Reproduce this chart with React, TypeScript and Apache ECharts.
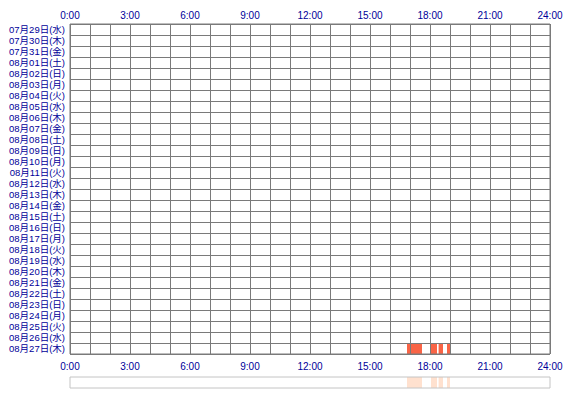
import React, { useEffect, useRef } from 'react';
import * as echarts from 'echarts';

const days = [
  '07月29日(水)', '07月30日(木)', '07月31日(金)', '08月01日(土)', '08月02日(日)',
  '08月03日(月)', '08月04日(火)', '08月05日(水)', '08月06日(木)', '08月07日(金)',
  '08月08日(土)', '08月09日(日)', '08月10日(月)', '08月11日(火)', '08月12日(水)',
  '08月13日(木)', '08月14日(金)', '08月15日(土)', '08月16日(日)', '08月17日(月)',
  '08月18日(火)', '08月19日(水)', '08月20日(木)', '08月21日(金)', '08月22日(土)',
  '08月23日(日)', '08月24日(月)', '08月25日(火)', '08月26日(水)', '08月27日(木)',
];

// [day index, start hour, end hour]
const sessions: [number, number, number][] = [
  [29, 16.85, 17.6],
  [29, 18.05, 18.35],
  [29, 18.43, 18.65],
  [29, 18.85, 19.0],
];

const hourLabels = ['0:00', '3:00', '6:00', '9:00', '12:00', '15:00', '18:00', '21:00', '24:00'];

const labelColor = '#000099';
const lineColor = '#7a7a7a';
const font = '"Liberation Sans", "Noto Sans CJK JP", sans-serif';

const hourLabel = (v: number) => (v % 3 === 0 ? hourLabels[v / 3] : '');

export default function App() {
  const ref = useRef<HTMLDivElement>(null);

  useEffect(() => {
    if (!ref.current) return;
    const chart = echarts.init(ref.current, undefined, { renderer: 'svg' });

    const dayBar = (params: any, api: any) => {
      const row = api.value(0);
      const a = api.coord([api.value(1), row]);
      const b = api.coord([api.value(2), row]);
      const h = api.size([0, 1])[1];
      return {
        type: 'rect',
        shape: { x: a[0], y: a[1] - h / 2, width: b[0] - a[0], height: h },
        style: { fill: '#f96446' },
      };
    };

    const overviewBar = (params: any, api: any) => {
      const a = api.coord([api.value(1), 1]);
      const b = api.coord([api.value(2), 0]);
      return {
        type: 'rect',
        shape: { x: a[0], y: a[1], width: b[0] - a[0], height: b[1] - a[1] },
        style: { fill: '#ffe1cf' },
      };
    };

    const labelStyle = { color: labelColor, fontSize: 10, fontFamily: font };

    chart.setOption({
      animation: false,
      grid: [
        { left: 70, top: 24, width: 480, height: 330, show: true, borderColor: lineColor, borderWidth: 1, z: 3 },
        { left: 70, top: 377, width: 480, height: 11, show: true, borderColor: '#c4c4c4', borderWidth: 1, z: 3 },
      ],
      xAxis: [
        {
          gridIndex: 0, type: 'value', position: 'top', min: 0, max: 24, interval: 1, z: 3,
          axisLine: { show: false }, axisTick: { show: false },
          splitLine: { show: true, lineStyle: { color: lineColor, width: 1 } },
          axisLabel: { ...labelStyle, margin: 4, formatter: hourLabel, showMinLabel: true, showMaxLabel: true },
        },
        {
          gridIndex: 0, type: 'value', position: 'bottom', min: 0, max: 24, interval: 1, z: 3,
          axisLine: { show: false }, axisTick: { show: false }, splitLine: { show: false },
          axisLabel: { ...labelStyle, margin: 7, formatter: hourLabel, showMinLabel: true, showMaxLabel: true },
        },
        {
          gridIndex: 1, type: 'value', min: 0, max: 1 * 24, show: false,
        },
      ],
      yAxis: [
        {
          gridIndex: 0, type: 'category', data: days, inverse: true, z: 3,
          axisLine: { show: false }, axisTick: { show: false },
          splitLine: { show: true, lineStyle: { color: lineColor, width: 1 } },
          axisLabel: { ...labelStyle, fontSize: 9.5, lineHeight: 10, margin: 5, interval: 0 },
        },
        {
          gridIndex: 1, type: 'value', min: 0, max: 1, show: false,
        },
      ],
      series: [
        {
          type: 'custom', xAxisIndex: 0, yAxisIndex: 0, z: 1,
          renderItem: dayBar, data: sessions, encode: { x: [1, 2], y: 0 },
        },
        {
          type: 'custom', xAxisIndex: 2, yAxisIndex: 1, z: 1,
          renderItem: overviewBar, data: sessions, encode: { x: [1, 2] },
        },
      ],
    });

    return () => {
      chart.dispose();
    };
  }, []);

  return (
    <div
      ref={ref}
      style={{ position: 'fixed', left: 0, top: 0, width: 570, height: 400, background: '#fff' }}
    />
  );
}
